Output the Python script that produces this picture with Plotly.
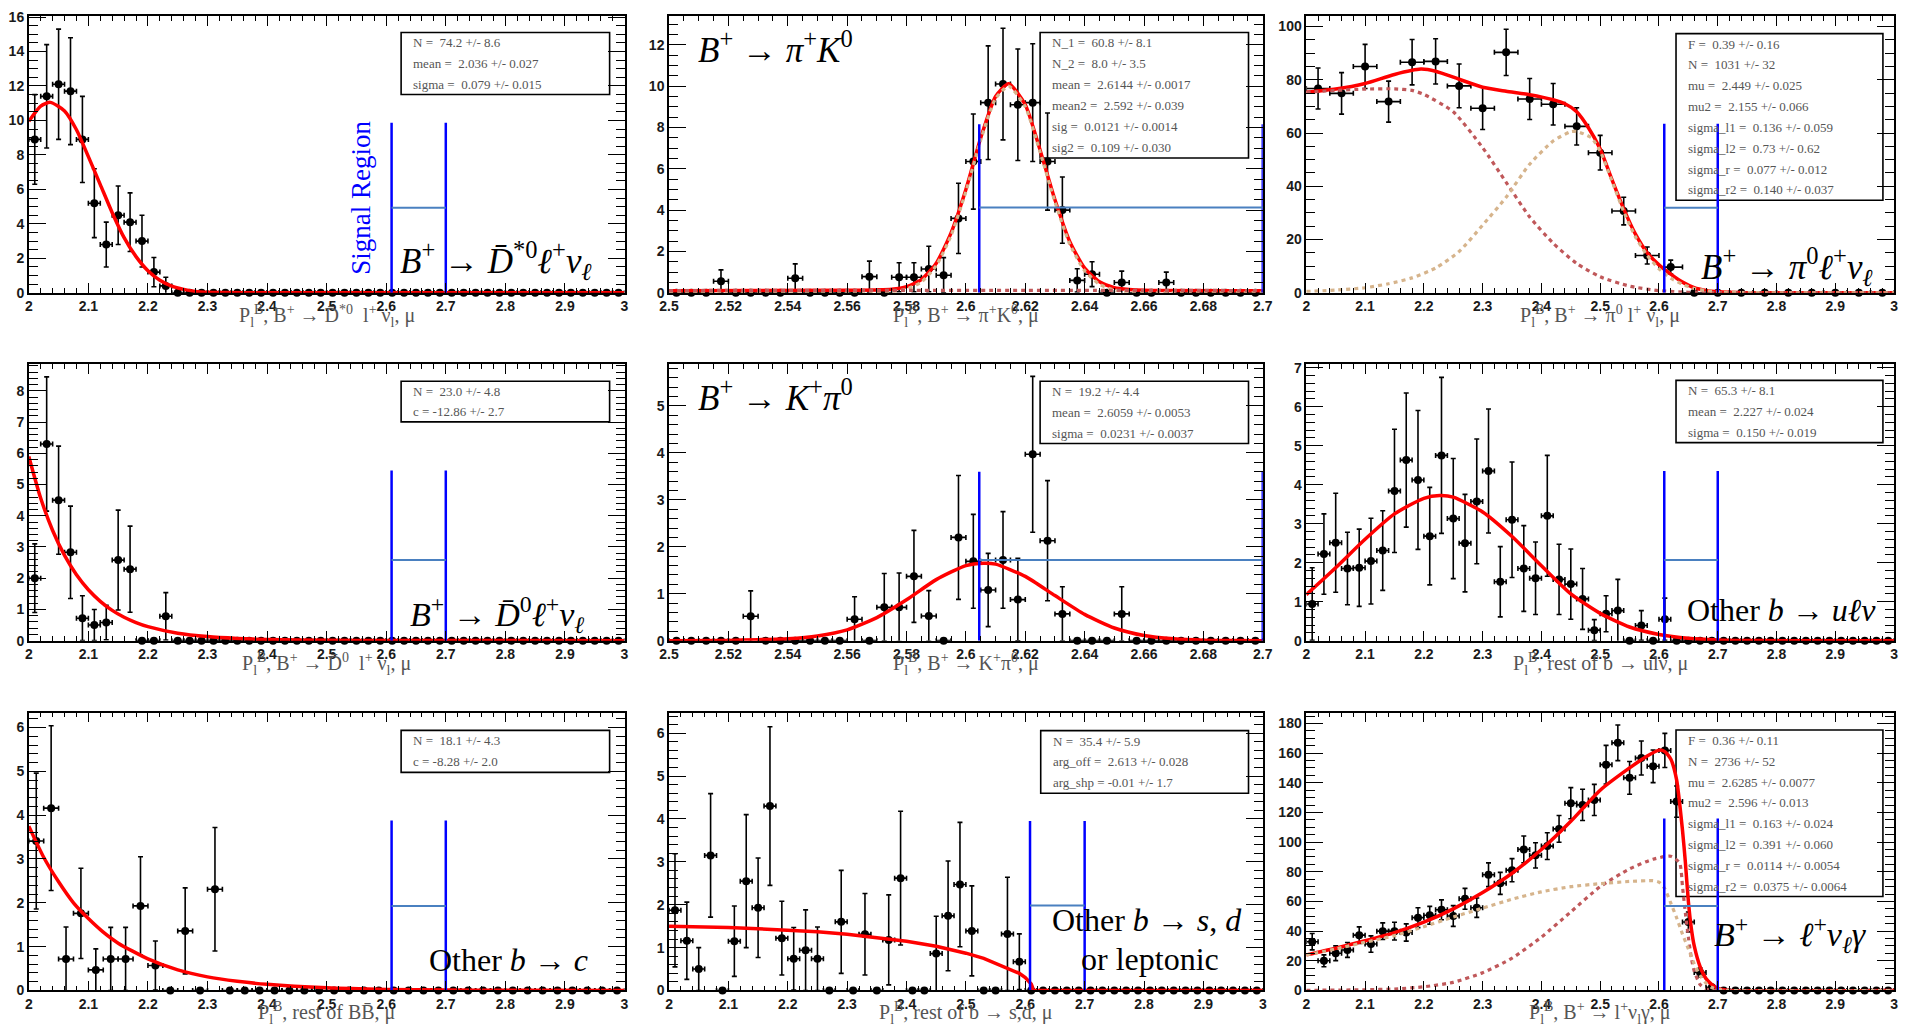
import plotly.graph_objects as go
import numpy as np

# ---------------- data ----------------
# tick labels
xt_wide = ["2", "2.1", "2.2", "2.3", "2.4", "2.5", "2.6", "2.7", "2.8", "2.9", "3"]
xt_narrow = ["2.5", "2.52", "2.54", "2.56", "2.58", "2.6", "2.62", "2.64", "2.66", "2.68", "2.7"]

# Panel 1: B+ -> D*0 l nu  (50 bins, 2..3)
p1_vals = [8.9, 11.4, 12.1, 11.7, 8.9, 5.2, 2.8, 4.5, 4.1, 3.0, 1.2, 0.4] + [0] * 38
p1_errs = [2.6, 3.0, 3.2, 3.1, 2.5, 2.0, 1.3, 1.7, 1.7, 1.5, 0.85, 0.5] + [0] * 38
p1_fit_x = [2.0, 2.02, 2.036, 2.06, 2.08, 2.10, 2.12, 2.14, 2.16, 2.18, 2.20, 2.22, 2.24, 2.26, 2.28, 2.30, 2.32, 2.4, 3.0]
p1_fit_y = [9.95, 10.83, 11.05, 10.55, 9.46, 7.9, 6.28, 4.65, 3.2, 2.1, 1.28, 0.73, 0.39, 0.2, 0.08, 0.03, 0.01, 0, 0]
p1_stats = ["N =  74.2 +/- 8.6", "mean =  2.036 +/- 0.027", "sigma =  0.079 +/- 0.015"]

# Panel 2: B+ -> pi+ K0  (40 bins, 2.5..2.7)
p2_vals = [0, 0, 0, 0.56, 0, 0, 0, 0, 0.7, 0, 0, 0, 0, 0.78, 0, 0.75, 0.75, 1.15, 0.85, 3.6,
           6.35, 9.2, 10.1, 9.1, 9.2, 6.35, 4.0, 0.6, 0.9, 0, 0.5, 0, 0, 0.5, 0, 0, 0, 0, 0, 0]
p2_errs = [0, 0, 0, 0.55, 0, 0, 0, 0, 0.7, 0, 0, 0, 0, 0.75, 0, 0.7, 0.7, 1.1, 0.85, 1.7,
           2.3, 2.75, 2.7, 2.7, 2.85, 2.35, 1.6, 0.56, 0.6, 0, 0.55, 0, 0, 0.5, 0, 0, 0, 0, 0, 0]
p2_fit_x = [2.5, 2.56, 2.57, 2.575, 2.58, 2.585, 2.59, 2.595, 2.60, 2.605, 2.61, 2.6144, 2.62, 2.625,
            2.63, 2.635, 2.64, 2.645, 2.65, 2.655, 2.66, 2.7]
p2_fit_y = [0.1, 0.12, 0.14, 0.17, 0.3, 0.64, 1.43, 2.9, 5.0, 7.5, 9.5, 10.12, 9.1, 6.9, 4.5, 2.47,
            1.19, 0.53, 0.25, 0.16, 0.12, 0.1]
p2_c1_y = [0, 0, 0.02, 0.05, 0.18, 0.52, 1.31, 2.77, 4.9, 7.4, 9.4, 10.0, 9.0, 6.8, 4.4, 2.35,
           1.07, 0.41, 0.13, 0.04, 0, 0]
p2_c2_x = [2.5, 2.57, 2.62, 2.7]
p2_c2_y = [0.11, 0.12, 0.12, 0.11]
p2_stats = ["N_1 =  60.8 +/- 8.1", "N_2 =  8.0 +/- 3.5", "mean =  2.6144 +/- 0.0017",
            "mean2 =  2.592 +/- 0.039", "sig =  0.0121 +/- 0.0014", "sig2 =  0.109 +/- 0.030"]

# Panel 3: B+ -> pi0 l nu  (25 bins, 2..3)
p3_vals = [76.7, 74.9, 85.0, 71.8, 86.6, 86.9, 77.7, 69.3, 90.3, 72.8, 70.8, 62.5, 52.6, 30.7, 14.0, 9.65] + [0] * 9
p3_errs = [7.7, 7.8, 8.3, 7.7, 8.5, 8.5, 8.2, 8.0, 8.7, 7.7, 7.8, 7.0, 6.5, 5.2, 3.2, 2.6] + [0] * 9
p3_fit_x = [2.0, 2.05, 2.1, 2.15, 2.195, 2.22, 2.26, 2.3, 2.34, 2.38, 2.42, 2.44, 2.46, 2.48, 2.5,
            2.52, 2.54, 2.56, 2.58, 2.6, 2.62, 2.64, 2.66, 2.68, 2.7, 2.75, 3.0]
p3_fit_y = [75.3, 76.5, 78.6, 82.0, 84.0, 83.2, 80.2, 77.2, 75.7, 74.4, 72.5, 71.0, 68.0, 62.0, 54.0,
            42.5, 31.5, 22.0, 15.0, 10.5, 7.0, 4.0, 1.9, 0.9, 0.4, 0.05, 0]
p3_c1_x = [2.0, 2.05, 2.1, 2.15, 2.18, 2.2, 2.25, 2.3, 2.34, 2.38, 2.42, 2.46, 2.5, 2.55, 2.6, 2.65, 2.7, 2.8, 3.0]
p3_c1_y = [75.3, 76.0, 76.5, 76.6, 76.0, 74.5, 68.0, 54.5, 41.5, 28.5, 18.6, 11.0, 6.0, 2.5, 0.8, 0.2, 0.05, 0, 0]
p3_c2_x = [2.0, 2.05, 2.1, 2.14, 2.18, 2.22, 2.26, 2.3, 2.34, 2.38, 2.42, 2.45, 2.46, 2.485, 2.5,
           2.52, 2.54, 2.56, 2.58, 2.6, 2.62, 2.64, 2.66, 2.68, 2.7, 2.75, 3.0]
p3_c2_y = [0.5, 1.0, 1.9, 3.4, 5.6, 9.3, 15.5, 25.4, 35.9, 48.3, 57.0, 60.5, 60.6, 58.2, 53.2,
           42.0, 30.5, 21.0, 14.0, 9.0, 5.5, 3.2, 1.6, 0.8, 0.3, 0.05, 0]
p3_stats = ["F =  0.39 +/- 0.16", "N =  1031 +/- 32", "mu =  2.449 +/- 0.025", "mu2 =  2.155 +/- 0.066",
            "sigma_l1 =  0.136 +/- 0.059", "sigma_l2 =  0.73 +/- 0.62", "sigma_r =  0.077 +/- 0.012",
            "sigma_r2 =  0.140 +/- 0.037"]

# Panel 4: B+ -> D0 l nu  (50 bins, 2..3)
p4_vals = [2.0, 6.3, 4.5, 2.83, 0.72, 0.5, 0.58, 2.58, 2.29, 0, 0, 0.78] + [0] * 38
p4_errs = [1.1, 2.15, 1.73, 1.48, 0.72, 0.5, 0.55, 1.6, 1.38, 0, 0, 0.76] + [0] * 38
p4_fit_x = [2.0, 2.02, 2.04, 2.06, 2.08, 2.10, 2.12, 2.14, 2.16, 2.18, 2.20, 2.25, 2.30, 2.35, 2.40, 2.5, 2.6, 3.0]
p4_fit_y = [5.9, 4.56, 3.53, 2.73, 2.11, 1.63, 1.26, 0.97, 0.75, 0.58, 0.45, 0.24, 0.13, 0.07, 0.035, 0.01, 0.003, 0]
p4_stats = ["N =  23.0 +/- 4.8", "c = -12.86 +/- 2.7"]

# Panel 5: B+ -> K+ pi0  (40 bins, 2.5..2.7)
p5_vals = [0, 0, 0, 0, 0, 0.52, 0, 0, 0, 0, 0, 0, 0.455, 0, 0.71, 0.71, 1.37, 0.525, 0, 2.2,
           1.69, 1.08, 1.72, 0.875, 3.97, 2.13, 0.57, 0, 0, 0, 0.57, 0, 0, 0, 0, 0, 0, 0, 0, 0]
p5_errs = [0, 0, 0, 0, 0, 0.54, 0, 0, 0, 0, 0, 0, 0.48, 0, 0.72, 0.73, 0.98, 0.54, 0, 1.32,
           1.0, 0.78, 1.03, 0.88, 1.66, 1.28, 0.58, 0, 0, 0, 0.58, 0, 0, 0, 0, 0, 0, 0, 0, 0]
p5_fit_x = [2.50, 2.52, 2.53, 2.54, 2.55, 2.56, 2.57, 2.58, 2.59, 2.60, 2.606, 2.61, 2.62, 2.63,
            2.64, 2.65, 2.66, 2.67, 2.68, 2.69, 2.70]
p5_fit_y = [0, 0.005, 0.02, 0.04, 0.1, 0.23, 0.49, 0.87, 1.3, 1.6, 1.65, 1.63, 1.37, 0.96,
            0.56, 0.27, 0.11, 0.04, 0.01, 0.003, 0]
p5_stats = ["N =  19.2 +/- 4.4", "mean =  2.6059 +/- 0.0053", "sigma =  0.0231 +/- 0.0037"]

# Panel 6: other b -> u l nu  (50 bins, 2..3)
p6_vals = [0.94, 2.22, 2.51, 1.85, 1.87, 2.04, 2.31, 3.84, 4.63, 4.12, 2.68, 4.75, 3.13, 2.5, 3.57,
           4.35, 1.51, 3.1, 1.85, 1.6, 3.2, 1.57, 1.45, 1.07, 0.27, 0.69, 0.77, 0, 0.39, 0, 0.55] + [0] * 19
p6_errs = [0.93, 1.03, 1.27, 0.93, 0.99, 1.1, 1.02, 1.58, 1.72, 1.78, 1.25, 2.0, 1.54, 1.25, 1.6,
           1.59, 0.9, 1.48, 1.1, 0.93, 1.55, 0.9, 0.9, 0.78, 0.27, 0.46, 0.8, 0, 0.38, 0, 0.54] + [0] * 19
p6_fit_x = [2.0, 2.05, 2.1, 2.15, 2.2, 2.227, 2.25, 2.3, 2.35, 2.4, 2.45, 2.5, 2.55, 2.6, 2.65, 2.7, 2.75, 2.8, 3.0]
p6_fit_y = [1.18, 1.87, 2.6, 3.25, 3.65, 3.72, 3.68, 3.3, 2.67, 1.92, 1.2, 0.7, 0.35, 0.16, 0.06, 0.02, 0.005, 0, 0]
p6_stats = ["N =  65.3 +/- 8.1", "mean =  2.227 +/- 0.024", "sigma =  0.150 +/- 0.019"]

# Panel 7: other b -> c  (40 bins, 2..3)
p7_vals = [3.41, 4.16, 0.72, 1.76, 0.47, 0.72, 0.72, 1.93, 0.57, 0, 1.36, 0, 2.31] + [0] * 27
p7_errs = [1.55, 1.88, 0.73, 1.03, 0.48, 0.72, 0.72, 1.12, 0.56, 0, 0.98, 0, 1.41] + [0] * 27
p7_fit_x = [2.0, 2.025, 2.05, 2.075, 2.1, 2.125, 2.15, 2.2, 2.25, 2.3, 2.35, 2.4, 2.5, 2.6, 2.7, 2.8, 3.0]
p7_fit_y = [3.75, 3.04, 2.48, 2.0, 1.64, 1.33, 1.08, 0.72, 0.47, 0.31, 0.21, 0.14, 0.06, 0.025, 0.01, 0.004, 0]
p7_stats = ["N =  18.1 +/- 4.3", "c = -8.28 +/- 2.0"]

# Panel 8: other b -> s,d or leptonic  (50 bins, 2..3)
p8_vals = [1.87, 1.16, 0.5, 3.15, 0, 1.15, 2.55, 1.93, 4.3, 1.22, 0.74, 0.94, 0.74, 0, 1.6, 0, 1.31,
           0, 1.18, 2.62, 0, 0, 0.86, 1.74, 2.47, 1.39, 0, 0, 1.32, 0.67] + [0] * 20
p8_errs = [1.32, 0.9, 0.5, 1.44, 0, 0.82, 1.55, 1.16, 1.85, 0.86, 0.73, 0.94, 0.74, 0, 1.2, 0, 0.95,
           0, 1.05, 1.56, 0, 0, 0.87, 1.28, 1.45, 1.05, 0, 0, 1.32, 0.65] + [0] * 20
p8_fit_x = [2.0, 2.05, 2.1, 2.15, 2.2, 2.25, 2.3, 2.35, 2.4, 2.45, 2.5, 2.53, 2.55, 2.57, 2.58, 2.59,
            2.6, 2.605, 2.61, 2.612, 2.613, 3.0]
p8_fit_y = [1.5, 1.49, 1.47, 1.44, 1.41, 1.37, 1.31, 1.24, 1.15, 1.03, 0.87, 0.75, 0.64, 0.53, 0.47,
            0.4, 0.3, 0.23, 0.15, 0.08, 0, 0]
p8_stats = ["N =  35.4 +/- 5.9", "arg_off =  2.613 +/- 0.028", "arg_shp = -0.01 +/- 1.7"]

# Panel 9: B+ -> l nu gamma  (50 bins, 2..3)
p9_vals = [32.9, 20.0, 25.1, 27.3, 37.3, 31.3, 40.0, 40.0, 39.1, 49.1, 50.7, 54.4, 50.2, 61.8, 55.8,
           78.0, 72.2, 81.1, 95.1, 91.1, 97.3, 108.9, 126.2, 125.1, 128.4, 152.2, 166.9, 143.3, 156.7,
           151.1, 161.8, 127.3, 46.2, 12.2, 2.2] + [0] * 15
p9_errs = [5.5, 4.0, 5.0, 5.0, 5.6, 5.5, 5.6, 6.0, 5.8, 6.7, 6.0, 6.7, 7.0, 7.0, 6.5, 8.0, 7.4, 7.8,
           9.0, 8.5, 9.0, 9.0, 10.5, 10.5, 10.5, 13.0, 12.0, 11.0, 11.5, 11.0, 11.5, 10.5, 6.7, 3.0, 1.5] + [0] * 15
p9_fit_x = [2.0, 2.05, 2.1, 2.15, 2.2, 2.25, 2.3, 2.35, 2.4, 2.45, 2.5, 2.55, 2.58, 2.60, 2.61, 2.62,
            2.63, 2.64, 2.645, 2.65, 2.655, 2.66, 2.67, 2.68, 2.69, 2.70, 2.71, 2.72, 3.0]
p9_fit_y = [24, 28.5, 33.5, 39, 46, 55, 66, 79, 95, 114, 135, 150, 158, 162, 161, 156,
            142, 108, 86, 60, 42, 30, 16, 8, 4, 1.5, 0.5, 0, 0]
p9_c1_x = [2.0, 2.1, 2.15, 2.2, 2.25, 2.3, 2.35, 2.4, 2.45, 2.5, 2.55, 2.59, 2.62, 2.635, 2.64,
           2.645, 2.65, 2.655, 2.66, 2.67, 2.68, 2.7, 3.0]
p9_c1_y = [0.1, 0.5, 1.0, 2.5, 5.5, 12, 21.8, 36, 53, 70, 82, 88.5, 90.5, 86, 70,
           52, 36, 22, 13, 4, 1, 0, 0]
p9_c2_x = [2.0, 2.05, 2.1, 2.15, 2.2, 2.25, 2.3, 2.35, 2.4, 2.45, 2.5, 2.55, 2.59, 2.60, 2.61, 2.62,
           2.63, 2.64, 2.65, 2.66, 2.67, 2.68, 2.69, 2.70, 2.72, 3.0]
p9_c2_y = [24, 28, 32.5, 37, 43, 49.5, 55.5, 61.5, 66.5, 70, 72, 73.5, 74, 73, 68.5, 59,
           49, 38, 28, 18, 10, 5, 2, 0.8, 0, 0]
p9_stats = ["F =  0.36 +/- 0.11", "N =  2736 +/- 52", "mu =  2.6285 +/- 0.0077", "mu2 =  2.596 +/- 0.013",
            "sigma_l1 =  0.163 +/- 0.024", "sigma_l2 =  0.391 +/- 0.060", "sigma_r =  0.0114 +/- 0.0054",
            "sigma_r2 =  0.0375 +/- 0.0064"]

# signal region markers per panel
sr_lo = [2.609, 2.6045, 2.609, 2.609, 2.6045, 2.609, 2.609, 2.608, 2.609]
sr_hi = [2.70, 2.70, 2.70, 2.70, 2.70, 2.70, 2.70, 2.70, 2.70]
sr_top = [9.87, 8.15, 63.5, 5.45, 3.6, 4.35, 3.88, 3.95, 116]
sr_mid = [4.94, 4.13, 31.9, 2.58, 1.72, 2.07, 1.93, 1.98, 57]

# y-axis maxima and tick labels
y_max = [16.07, 13.4, 104, 8.87, 5.9, 7.1, 6.34, 6.48, 187.3]
yt_1 = ["0", "2", "4", "6", "8", "10", "12", "14", "16"]
yt_2 = ["0", "2", "4", "6", "8", "10", "12"]
yt_3 = ["0", "20", "40", "60", "80", "100"]
yt_4 = ["0", "1", "2", "3", "4", "5", "6", "7", "8"]
yt_5 = ["0", "1", "2", "3", "4", "5"]
yt_6 = ["0", "1", "2", "3", "4", "5", "6", "7"]
yt_7 = ["0", "1", "2", "3", "4", "5", "6"]
yt_8 = ["0", "1", "2", "3", "4", "5", "6"]
yt_9 = ["0", "20", "40", "60", "80", "100", "120", "140", "160", "180"]

# ---------------- text ----------------
SUBP = "P<sub>l</sub><sup>B</sup>, "
titles = [
    SUBP + "B<sup>+</sup> → D̄<sup>*0</sup>  l<sup>+</sup> ν<sub>l</sub>, μ",
    SUBP + "B<sup>+</sup> → π<sup>+</sup>K<sup>0</sup>, μ",
    SUBP + "B<sup>+</sup> → π<sup>0</sup> l<sup>+</sup> ν<sub>l</sub>, μ",
    SUBP + "B<sup>+</sup> → D̄<sup>0</sup>  l<sup>+</sup> ν<sub>l</sub>, μ",
    SUBP + "B<sup>+</sup> → K<sup>+</sup>π<sup>0</sup>, μ",
    SUBP + "rest of b → ulν, μ",
    SUBP + "rest of BB̄, μ",
    SUBP + "rest of b → s,d, μ",
    SUBP + "B<sup>+</sup> → l<sup>+</sup>ν<sub>l</sub>γ, μ",
]
labels = [
    "<i>B</i><sup>+</sup> → <i>D̄</i><sup>*0</sup><i>ℓ</i><sup>+</sup><i>ν</i><sub><i>ℓ</i></sub>",
    "<i>B</i><sup>+</sup> → <i>π</i><sup>+</sup><i>K</i><sup>0</sup>",
    "<i>B</i><sup>+</sup> → <i>π</i><sup>0</sup><i>ℓ</i><sup>+</sup><i>ν</i><sub><i>ℓ</i></sub>",
    "<i>B</i><sup>+</sup> → <i>D̄</i><sup>0</sup><i>ℓ</i><sup>+</sup><i>ν</i><sub><i>ℓ</i></sub>",
    "<i>B</i><sup>+</sup> → <i>K</i><sup>+</sup><i>π</i><sup>0</sup>",
    "Other <i>b</i> → <i>uℓν</i>",
    "Other <i>b</i> → <i>c</i>",
    "Other <i>b</i> → <i>s</i>, <i>d</i>",
    "<i>B</i><sup>+</sup> → <i>ℓ</i><sup>+</sup><i>ν</i><sub><i>ℓ</i></sub><i>γ</i>",
]

# ---------------- layout geometry ----------------
W, H = 1913, 1032
col_px = [(19, 621), (666, 1266), (1310, 1904)]
row_px = [(9, 290), (362, 643), (716, 998)]

RED = "#ff0000"
DKRED = "#c0585a"
TAN = "#d6b48c"
BLUE = "#0000ff"
STEEL = "#4a80c0"

PANELS = [
    dict(lo=2.0, hi=3.0, nb=50, vals=p1_vals, errs=p1_errs, xt=xt_wide, minx=0.02, yt=yt_1, miny=0.5,
         fit=(p1_fit_x, p1_fit_y), comps=[], stats=p1_stats, box=(0.625, 0.975, 0.716, 0.94),
         lab=(0.619, 0.115), lsize=35, shape="spline"),
    dict(lo=2.5, hi=2.7, nb=40, vals=p2_vals, errs=p2_errs, xt=xt_narrow, minx=0.005, yt=yt_2, miny=0.5,
         fit=(p2_fit_x, p2_fit_y), comps=[(p2_fit_x, p2_c1_y, TAN), (p2_c2_x, p2_c2_y, DKRED)],
         stats=p2_stats, box=(0.625, 0.976, 0.487, 0.94), lab=(0.045, 0.885), lsize=35, shape="spline"),
    dict(lo=2.0, hi=3.0, nb=25, vals=p3_vals, errs=p3_errs, xt=xt_wide, minx=0.02, yt=yt_3, miny=5,
         fit=(p3_fit_x, p3_fit_y), comps=[(p3_c1_x, p3_c1_y, DKRED), (p3_c2_x, p3_c2_y, TAN)],
         stats=p3_stats, box=(0.629, 0.981, 0.334, 0.936), lab=(0.668, 0.095), lsize=35, shape="spline"),
    dict(lo=2.0, hi=3.0, nb=50, vals=p4_vals, errs=p4_errs, xt=xt_wide, minx=0.02, yt=yt_4, miny=0.2,
         fit=(p4_fit_x, p4_fit_y), comps=[], stats=p4_stats, box=(0.625, 0.975, 0.79, 0.937),
         lab=(0.637, 0.095), lsize=34, shape="spline"),
    dict(lo=2.5, hi=2.7, nb=40, vals=p5_vals, errs=p5_errs, xt=xt_narrow, minx=0.005, yt=yt_5, miny=0.2,
         fit=(p5_fit_x, p5_fit_y), comps=[], stats=p5_stats, box=(0.625, 0.976, 0.712, 0.937),
         lab=(0.045, 0.887), lsize=35, shape="spline"),
    dict(lo=2.0, hi=3.0, nb=50, vals=p6_vals, errs=p6_errs, xt=xt_wide, minx=0.02, yt=yt_6, miny=0.2,
         fit=(p6_fit_x, p6_fit_y), comps=[], stats=p6_stats, box=(0.629, 0.981, 0.715, 0.94),
         lab=(0.645, 0.11), lsize=32, shape="spline"),
    dict(lo=2.0, hi=3.0, nb=40, vals=p7_vals, errs=p7_errs, xt=xt_wide, minx=0.02, yt=yt_7, miny=0.2,
         fit=(p7_fit_x, p7_fit_y), comps=[], stats=p7_stats, box=(0.625, 0.975, 0.785, 0.936),
         lab=(0.668, 0.11), lsize=32, shape="spline"),
    dict(lo=2.0, hi=3.0, nb=50, vals=p8_vals, errs=p8_errs, xt=xt_wide, minx=0.02, yt=yt_8, miny=0.2,
         fit=(p8_fit_x, p8_fit_y), comps=[], stats=p8_stats, box=(0.626, 0.976, 0.71, 0.935),
         lab=(0.642, 0.255), lsize=32, shape="linear"),
    dict(lo=2.0, hi=3.0, nb=50, vals=p9_vals, errs=p9_errs, xt=xt_wide, minx=0.02, yt=yt_9, miny=5,
         fit=(p9_fit_x, p9_fit_y), comps=[(p9_c1_x, p9_c1_y, DKRED), (p9_c2_x, p9_c2_y, TAN)],
         stats=p9_stats, box=(0.629, 0.981, 0.338, 0.9375), lab=(0.69, 0.2), lsize=34, shape="spline"),
]

fig = go.Figure()
layout = dict(width=W, height=H, margin=dict(l=0, r=0, t=0, b=0), paper_bgcolor="white",
              plot_bgcolor="white", showlegend=False)
annotations = []
shapes = []

TICKFONT = dict(family="Liberation Sans Narrow, Liberation Sans, Arial", size=14, color="#1a1a1a", weight="bold")
SERIF = "Liberation Serif, Times New Roman, serif"

for i, P in enumerate(PANELS):
    k = i + 1
    r, c = divmod(i, 3)
    xs = "" if k == 1 else str(k)
    xref, yref = "x" + xs, "y" + xs
    x0p, x1p = col_px[c]
    y0p, y1p = row_px[r]
    binw = (P["hi"] - P["lo"]) / P["nb"]
    centers = P["lo"] + binw * (np.arange(P["nb"]) + 0.5)

    # data points
    fig.add_trace(go.Scatter(
        x=centers, y=P["vals"], mode="markers", xaxis=xref, yaxis=yref, cliponaxis=False,
        marker=dict(color="black", size=8),
        error_y=dict(type="data", array=P["errs"], color="black", thickness=1.6, width=2.5),
        error_x=dict(type="constant", value=binw / 2, color="black", thickness=1.6, width=2.5),
    ))
    # fit total
    fx, fy = P["fit"]
    fig.add_trace(go.Scatter(x=fx, y=fy, mode="lines", xaxis=xref, yaxis=yref, cliponaxis=False,
                             line=dict(color=RED, width=3.5, shape=P["shape"], smoothing=0.6)))
    # components
    for cx, cy, col in P["comps"]:
        fig.add_trace(go.Scatter(x=cx, y=cy, mode="lines", xaxis=xref, yaxis=yref, cliponaxis=False,
                                 line=dict(color=col, width=3.2, dash="4px,4px", shape="spline", smoothing=0.6)))
    # signal region
    L, R = sr_lo[i], sr_hi[i]
    fig.add_trace(go.Scatter(x=[L, L, None, R, R], y=[0, sr_top[i], None, 0, sr_top[i]], mode="lines",
                             xaxis=xref, yaxis=yref, cliponaxis=False,
                             line=dict(color=BLUE, width=2.5)))
    fig.add_trace(go.Scatter(x=[L, R], y=[sr_mid[i], sr_mid[i]], mode="lines", xaxis=xref, yaxis=yref,
                             cliponaxis=False, line=dict(color=STEEL, width=2)))

    # axes
    xtv = [float(t) for t in P["xt"]]
    ytv = [float(t) for t in P["yt"]]
    layout["xaxis" + xs] = dict(
        domain=[x0p / W, x1p / W], anchor=yref, range=[P["lo"], P["hi"]],
        tickmode="array", tickvals=xtv, ticktext=P["xt"], ticks="inside", ticklen=10, tickwidth=1.3,
        tickcolor="black", showline=True, linecolor="black", linewidth=1.6, mirror="allticks",
        showgrid=False, zeroline=False, tickfont=TICKFONT,
        minor=dict(tick0=P["lo"], dtick=P["minx"], ticks="inside", ticklen=5, tickwidth=1.1,
                   tickcolor="black", showgrid=False),
    )
    layout["yaxis" + xs] = dict(
        domain=[1 - y1p / H, 1 - y0p / H], anchor=xref, range=[0, y_max[i]],
        tickmode="array", tickvals=ytv, ticktext=P["yt"], ticks="inside", ticklen=17, tickwidth=1.3,
        tickcolor="black", showline=True, linecolor="black", linewidth=1.6, mirror="allticks",
        showgrid=False, zeroline=False, tickfont=TICKFONT,
        minor=dict(tick0=0, dtick=P["miny"], ticks="inside", ticklen=9, tickwidth=1.1,
                   tickcolor="black", showgrid=False),
    )

    xd, yd = xref + " domain", yref + " domain"
    # stats box
    bx0, bx1, by0, by1 = P["box"]
    shapes.append(dict(type="rect", xref=xd, yref=yd, x0=bx0, x1=bx1, y0=by0, y1=by1,
                       line=dict(color="black", width=1.6), fillcolor="rgba(0,0,0,0)", layer="below"))
    n = len(P["stats"])
    for j, s in enumerate(P["stats"]):
        annotations.append(dict(xref=xd, yref=yd, x=bx0 + 0.017, y=by1 - (j + 0.5) * (by1 - by0) / n,
                                xanchor="left", yanchor="middle", text=s, showarrow=False,
                                font=dict(family=SERIF, size=13, color="#555555")))
    # big label
    lx, ly = P["lab"]
    annotations.append(dict(xref=xd, yref=yd, x=lx, y=ly, xanchor="left", yanchor="middle",
                            text=labels[i], showarrow=False,
                            font=dict(family=SERIF, size=P["lsize"], color="black")))
    # axis title
    annotations.append(dict(xref=xd, yref=yd, x=0.5, y=0, yshift=-23, xanchor="center", yanchor="middle",
                            text=titles[i], showarrow=False,
                            font=dict(family=SERIF, size=20, color="#555555")))

# extra texts
annotations.append(dict(xref="x8 domain", yref="y8 domain", x=0.69, y=0.112, xanchor="left",
                        yanchor="middle", text="or leptonic", showarrow=False,
                        font=dict(family=SERIF, size=32, color="black")))
annotations.append(dict(xref="x domain", yref="y domain", x=0.557, y=0.342, xanchor="center",
                        yanchor="middle", text="Signal Region", textangle=-90, showarrow=False,
                        font=dict(family=SERIF, size=27, color=BLUE)))

layout["annotations"] = annotations
layout["shapes"] = shapes
fig.update_layout(**layout)
fig.write_html("out.html")
